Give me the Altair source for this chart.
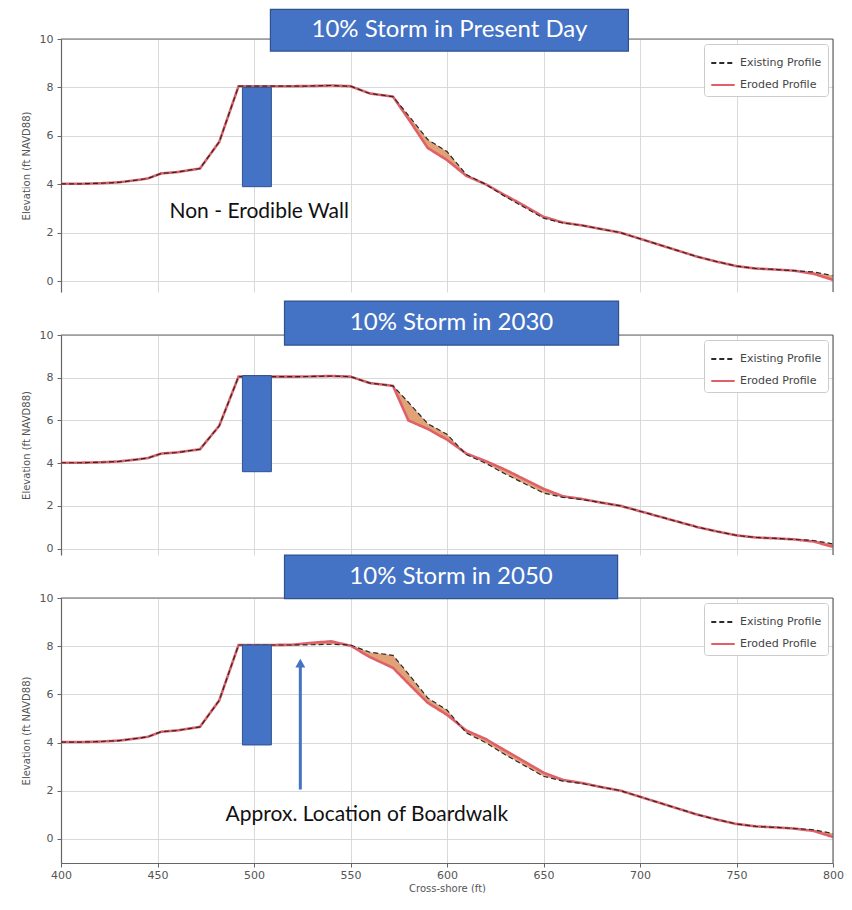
import altair as alt
import pandas as pd

# ---------------- data ----------------
x_ft = [400, 410, 420, 430, 440, 445, 452, 460, 472, 482, 492, 500, 510, 520, 530, 540, 550, 560, 572, 580,
        590, 600, 610, 620, 630, 640, 650, 660, 670, 680, 690, 700, 710, 720, 730, 740, 750, 760, 770, 780,
        790, 800]

existing = [4.02, 4.02, 4.04, 4.08, 4.18, 4.24, 4.45, 4.5, 4.65, 5.75, 8.05, 8.05, 8.05, 8.05, 8.06, 8.08, 8.05, 7.75, 7.62, 6.85,
            5.85, 5.35, 4.4, 4.0, 3.5, 3.05, 2.6, 2.4, 2.3, 2.15, 2.0, 1.75, 1.5, 1.25, 1.0, 0.8, 0.62, 0.52, 0.48, 0.43,
            0.38, 0.22]

eroded_present = [4.02, 4.02, 4.04, 4.08, 4.18, 4.24, 4.45, 4.5, 4.65, 5.75, 8.05, 8.05, 8.05, 8.05, 8.06, 8.08, 8.05, 7.75, 7.62, 6.7,
                  5.5, 5.0, 4.35, 4.0, 3.55, 3.12, 2.66, 2.42, 2.3, 2.15, 2.0, 1.75, 1.5, 1.25, 1.0, 0.8, 0.62, 0.52, 0.48, 0.43,
                  0.3, 0.05]

eroded_2030 = [4.02, 4.02, 4.04, 4.08, 4.18, 4.24, 4.45, 4.5, 4.65, 5.75, 8.05, 8.05, 8.05, 8.05, 8.06, 8.08, 8.05, 7.75, 7.62, 6.0,
               5.6, 5.1, 4.45, 4.1, 3.7, 3.25, 2.8, 2.45, 2.32, 2.15, 2.0, 1.75, 1.5, 1.25, 1.0, 0.8, 0.62, 0.52, 0.48, 0.43,
               0.33, 0.08]

eroded_2050 = [4.02, 4.02, 4.04, 4.08, 4.18, 4.24, 4.45, 4.5, 4.65, 5.75, 8.05, 8.05, 8.05, 8.06, 8.14, 8.2, 8.02, 7.55, 7.1, 6.45,
               5.65, 5.15, 4.5, 4.15, 3.68, 3.22, 2.75, 2.45, 2.32, 2.15, 2.0, 1.75, 1.5, 1.25, 1.0, 0.8, 0.62, 0.52, 0.48, 0.43,
               0.33, 0.08]

panel_titles = ["10% Storm in Present Day", "10% Storm in 2030", "10% Storm in 2050"]
series_names = ["Existing Profile", "Eroded Profile"]
x_ticks = [400, 450, 500, 550, 600, 650, 700, 750, 800]
y_ticks = [0, 2, 4, 6, 8, 10]

# wall (non-erodible) extent per panel
wall_x = [494, 509]
wall_bottom = [3.9, 3.6, 3.9]
wall_top = [8.0, 8.1, 8.05]

# ---------------- layout / style ----------------
y_min = [-0.45, -0.3, -1.0]
heights = [253, 220, 265]
WIDTH = 772
box_x = [(508.5, 694.0), (515.8, 688.9), (515.8, 688.4)]
box_y = [(9.5, 11.22), (9.53, 11.59), (9.97, 11.78)]
BLUE = "#4472C4"
BLUE_EDGE = "#2F528F"
ERODED_C = "#e0606a"
EXIST_C = "#2a2a2a"
FILL_C = "#d98b56"


def panel(eroded, idx, bottom_axis, annotations):
    ymin = y_min[idx]
    xs = alt.Scale(domain=[400, 800], nice=False, zero=False)
    ys = alt.Scale(domain=[ymin, 10], nice=False, zero=False)
    if bottom_axis:
        xaxis = alt.Axis(values=x_ticks, grid=True, title="Cross-shore (ft)", format="d",
                         labelFlush=False, tickSize=4, titlePadding=3)
    else:
        xaxis = alt.Axis(values=x_ticks, grid=True, labels=False, ticks=False, domain=False, title=None)
    yaxis = alt.Axis(values=y_ticks, grid=True, title="Elevation (ft NAVD88)", tickSize=4,
                     labelPadding=4, titlePadding=8)

    def X(f):
        return alt.X(f, type="quantitative", scale=xs, axis=xaxis)

    def Y(f):
        return alt.Y(f, type="quantitative", scale=ys, axis=yaxis)

    df = pd.DataFrame({"x": x_ft, "Existing": existing, "Eroded": eroded})
    base = alt.Chart(df)

    color_scale = alt.Scale(domain=series_names, range=[EXIST_C, ERODED_C])
    dash_scale = alt.Scale(domain=series_names, range=[[5, 3], [1, 0]])
    leg = alt.Legend(title=None, orient="top-right", offset=5, fillColor="white", strokeColor="#cccccc",
                     padding=6, labelFontSize=11, labelFont="DejaVu Sans", labelColor="#444444",
                     symbolType="stroke", symbolSize=550, symbolStrokeWidth=2, rowPadding=4, cornerRadius=3)

    area = base.mark_area(color=FILL_C, opacity=0.8).encode(x=X("x"), y=Y("Eroded"), y2="Existing")

    line_er = base.transform_calculate(series="'Eroded Profile'").mark_line(strokeWidth=2.6).encode(
        x=X("x"), y=Y("Eroded"),
        color=alt.Color("series:N", scale=color_scale, legend=leg),
        strokeDash=alt.StrokeDash("series:N", scale=dash_scale, legend=leg))
    line_ex = base.transform_calculate(series="'Existing Profile'").mark_line(strokeWidth=1.2).encode(
        x=X("x"), y=Y("Existing"),
        color=alt.Color("series:N", scale=color_scale, legend=leg),
        strokeDash=alt.StrokeDash("series:N", scale=dash_scale, legend=leg))

    frame_df = pd.DataFrame({"x1": [400, 800], "x2": [800, 800], "y1": [10, ymin], "y2": [10, 10]})
    frame = alt.Chart(frame_df).mark_rule(color="#666666", strokeWidth=1.2).encode(
        x=X("x1"), x2="x2", y=Y("y1"), y2="y2")

    wall_df = pd.DataFrame({"x1": [wall_x[0]], "x2": [wall_x[1]], "y1": [wall_bottom[idx]], "y2": [wall_top[idx]]})
    wall = alt.Chart(wall_df).mark_rect(color=BLUE, stroke=BLUE_EDGE, strokeWidth=1).encode(
        x=X("x1"), x2="x2", y=Y("y1"), y2="y2")

    bx, by = box_x[idx], box_y[idx]
    box_df = pd.DataFrame({"x1": [bx[0]], "x2": [bx[1]], "y1": [by[0]], "y2": [by[1]],
                           "xc": [(bx[0] + bx[1]) / 2], "yc": [(by[0] + by[1]) / 2],
                           "label": [panel_titles[idx]]})
    box = alt.Chart(box_df).mark_rect(color=BLUE, stroke=BLUE_EDGE, strokeWidth=1.2, clip=False).encode(
        x=X("x1"), x2="x2", y=Y("y1"), y2="y2")
    box_text = alt.Chart(box_df).mark_text(font="Lato", fontSize=24, color="white", align="center",
                                           baseline="middle", clip=False).encode(
        x=X("xc"), y=Y("yc"), text="label:N")

    layers = [area, line_er, line_ex, frame, wall] + annotations(X, Y) + [box, box_text]
    return alt.layer(*layers).properties(width=WIDTH, height=heights[idx])


def notes_top(X, Y):
    d = pd.DataFrame({"x": [502.7], "y": [2.87], "t": ["Non - Erodible Wall"]})
    return [alt.Chart(d).mark_text(font="Lato", fontSize=21, color="#111111", align="center",
                                   baseline="middle").encode(x=X("x"), y=Y("y"), text="t:N")]


def notes_none(X, Y):
    return []


def notes_bottom(X, Y):
    arrow_df = pd.DataFrame({"x": [524], "y1": [2.05], "y2": [7.2], "tip": [7.3]})
    shaft = alt.Chart(arrow_df).mark_rule(color=BLUE, strokeWidth=3).encode(x=X("x"), y=Y("y1"), y2="y2")
    head = alt.Chart(arrow_df).mark_point(shape="triangle-up", filled=True, color=BLUE, size=100,
                                          opacity=1).encode(x=X("x"), y=Y("tip"))
    d = pd.DataFrame({"x": [558.5], "y": [1.0], "t": ["Approx. Location of Boardwalk"]})
    txt = alt.Chart(d).mark_text(font="Lato", fontSize=21, color="#111111", align="center",
                                 baseline="middle").encode(x=X("x"), y=Y("y"), text="t:N")
    return [shaft, head, txt]


p1 = panel(eroded_present, 0, False, notes_top)
p2 = panel(eroded_2030, 1, False, notes_none)
p3 = panel(eroded_2050, 2, True, notes_bottom)

chart = alt.vconcat(p1, p2, p3, spacing=43, bounds="flush").resolve_scale(
    color="independent", strokeDash="independent"
).resolve_legend(
    color="independent", strokeDash="independent"
).properties(
    padding={"left": 13, "top": 0, "right": 0, "bottom": 0}
).configure_view(stroke=None).configure_axis(
    labelFont="DejaVu Sans", labelFontSize=11, labelColor="#555555",
    titleFont="DejaVu Sans", titleFontSize=10, titleColor="#555555", titleFontWeight="normal",
    gridColor="#d9d9d9", gridWidth=1, domainColor="#666666", domainWidth=1.2, tickColor="#666666"
)

chart.save("out.html", embed_options={"renderer": "svg", "actions": False})
